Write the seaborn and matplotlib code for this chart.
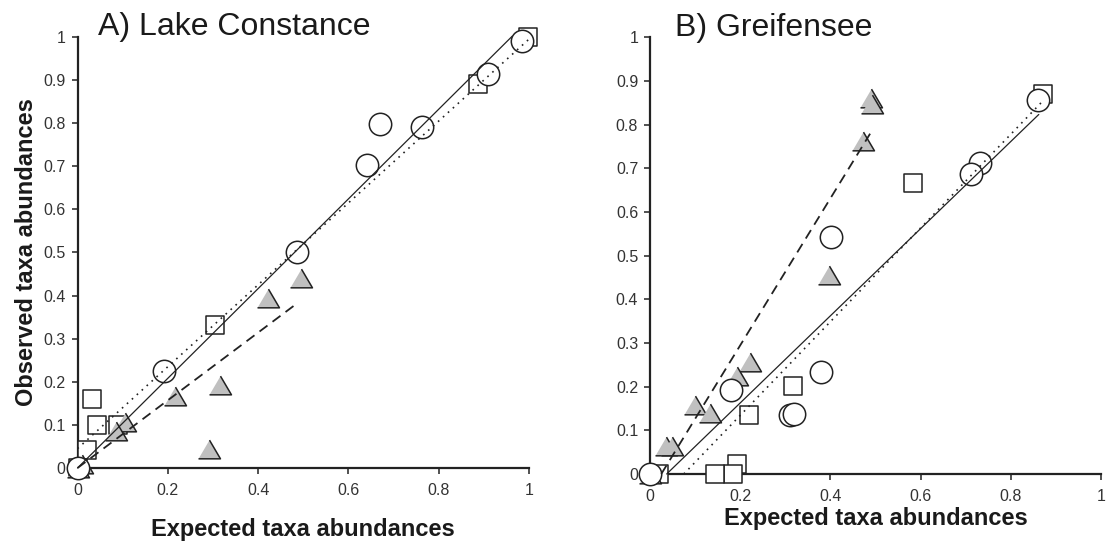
import numpy as np
import pandas as pd
import matplotlib as mpl
mpl.use("Agg")
import matplotlib.pyplot as plt
import seaborn as sns

# ---- Lake Constance (panel A) ----
lc_circle_x = [0.984, 0.909, 0.670, 0.763, 0.641, 0.487, 0.192, 0.0]
lc_circle_y = [0.990, 0.914, 0.799, 0.791, 0.703, 0.500, 0.224, 0.0]
lc_square_x = [0.997, 0.888, 0.305, 0.032, 0.043, 0.089, 0.021, 0.0]
lc_square_y = [1.000, 0.891, 0.331, 0.159, 0.100, 0.100, 0.042, 0.0]
lc_tri_x = [0.495, 0.421, 0.315, 0.292, 0.217, 0.106, 0.086, 0.010, 0.0]
lc_tri_y = [0.441, 0.395, 0.193, 0.045, 0.167, 0.107, 0.087, 0.010, 0.0]

# fitted lines (end points)
lc_solid_x, lc_solid_y = [0.0, 0.963], [0.0, 1.002]
lc_dotted_x, lc_dotted_y = [0.0, 1.0], [0.045, 0.995]
lc_dashed_x, lc_dashed_y = [0.0, 0.485], [0.0, 0.381]

# ---- Greifensee (panel B) ----
gr_circle_x = [0.860, 0.731, 0.712, 0.401, 0.379, 0.180, 0.310, 0.320, 0.0]
gr_circle_y = [0.857, 0.712, 0.687, 0.542, 0.233, 0.193, 0.134, 0.137, 0.0]
gr_square_x = [0.872, 0.583, 0.318, 0.219, 0.193, 0.185, 0.145, 0.020]
gr_square_y = [0.869, 0.667, 0.201, 0.136, 0.022, 0.0, 0.0, 0.0]
gr_tri_x = [0.490, 0.492, 0.472, 0.398, 0.221, 0.194, 0.100, 0.132, 0.036, 0.049, 0.0]
gr_tri_y = [0.861, 0.847, 0.763, 0.455, 0.256, 0.224, 0.158, 0.140, 0.064, 0.064, 0.0]

gr_solid_x, gr_solid_y = [0.037, 0.862], [0.0, 0.823]
gr_dotted_x, gr_dotted_y = [0.075, 0.872], [0.0, 0.855]
gr_dashed_x, gr_dashed_y = [0.025, 0.488], [0.0, 0.779]

x_ticks = [0, 0.2, 0.4, 0.6, 0.8, 1]
x_labels = ["0", "0.2", "0.4", "0.6", "0.8", "1"]
y_ticks = [0, 0.1, 0.2, 0.3, 0.4, 0.5, 0.6, 0.7, 0.8, 0.9, 1]
y_labels = ["0", "0.1", "0.2", "0.3", "0.4", "0.5", "0.6", "0.7", "0.8", "0.9", "1"]

sns.set_theme(style="ticks")
plt.rcParams['font.family'] = ['Liberation Sans', 'DejaVu Sans']

INK = "#222222"
GREY = "#c0c0c0"
tri_marker = [(-1, -0.85), (1, -0.85), (0, 0.85)]


def draw_panel(ax, circles, squares, tris, solid, dotted, dashed, title, title_x, title_y):
    sx, sy = squares
    tx, ty = tris
    cx, cy = circles
    sns.scatterplot(x=sx, y=sy, ax=ax, marker="s", s=180, color="white",
                    edgecolor=INK, linewidth=1.1, clip_on=False, zorder=3)
    sns.scatterplot(x=tx, y=ty, ax=ax, marker=tri_marker, s=250, color=GREY,
                    edgecolor=INK, linewidth=1.1, clip_on=False, zorder=4)
    sns.scatterplot(x=cx, y=cy, ax=ax, marker="o", s=260, color="white",
                    edgecolor=INK, linewidth=1.1, clip_on=False, zorder=5)
    sns.lineplot(x=solid[0], y=solid[1], ax=ax, color=INK, linewidth=0.9,
                 zorder=6, clip_on=False)
    sns.lineplot(x=dotted[0], y=dotted[1], ax=ax, color=INK, linewidth=1.2,
                 linestyle=(0, (1, 3)), zorder=6, clip_on=False)
    sns.lineplot(x=dashed[0], y=dashed[1], ax=ax, color=INK, linewidth=1.3,
                 linestyle=(0, (5.5, 3.5)), zorder=6, clip_on=False)

    ax.set_xlim(0, 1)
    ax.set_ylim(0, 1)
    ax.set_xticks(x_ticks)
    ax.set_xticklabels(x_labels)
    ax.set_yticks(y_ticks)
    ax.set_yticklabels(y_labels)
    sns.despine(ax=ax)
    for side in ["left", "bottom"]:
        ax.spines[side].set_linewidth(1.6)
        ax.spines[side].set_color(INK)
    ax.tick_params(axis="both", direction="out", length=4.5, width=1.1,
                   color=INK, labelsize=11.5, labelcolor="#333333")
    ax.tick_params(axis="x", pad=6)
    ax.tick_params(axis="y", pad=4)
    ax.text(title_x, title_y, title, transform=ax.transAxes, fontsize=23,
            color="#1a1a1a", ha="left", va="center")


fig = plt.figure(figsize=(11.09, 5.44), dpi=100)
ax1 = fig.add_axes([0.0699, 0.1397, 0.4071, 0.7923])
ax2 = fig.add_axes([0.5861, 0.1287, 0.4067, 0.8030])

draw_panel(ax1, (lc_circle_x, lc_circle_y), (lc_square_x, lc_square_y),
           (lc_tri_x, lc_tri_y), (lc_solid_x, lc_solid_y),
           (lc_dotted_x, lc_dotted_y), (lc_dashed_x, lc_dashed_y),
           "A) Lake Constance", 0.045, 1.023)
draw_panel(ax2, (gr_circle_x, gr_circle_y), (gr_square_x, gr_square_y),
           (gr_tri_x, gr_tri_y), (gr_solid_x, gr_solid_y),
           (gr_dotted_x, gr_dotted_y), (gr_dashed_x, gr_dashed_y),
           "B) Greifensee", 0.055, 1.022)

lab = dict(fontsize=17, fontweight="bold", color="#1a1a1a")
ax1.set_ylabel("Observed taxa abundances", va="center", **lab)
ax1.yaxis.set_label_coords(-0.112, 0.5)
ax1.set_xlabel("Expected taxa abundances", va="center", **lab)
ax1.xaxis.set_label_coords(0.5, -0.142)
ax2.set_xlabel("Expected taxa abundances", va="center", **lab)
ax2.xaxis.set_label_coords(0.5, -0.103)
ax2.set_ylabel("")

fig.savefig("out.png", dpi=100)
